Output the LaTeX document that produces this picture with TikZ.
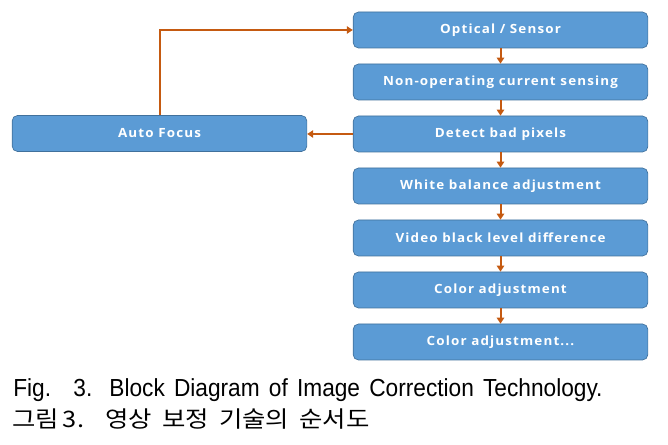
\documentclass[tikz,border=0pt]{standalone}
\usepackage{fontspec}
\setmainfont{Open Sans}
\newfontfamily\boxfont[LetterSpace=9,FakeStretch=1.06]{Open Sans}
\newfontfamily\kr[FakeStretch=1.12]{Noto Sans CJK KR}
\newfontfamily\latcap[FakeStretch=0.92]{Liberation Sans}
\usetikzlibrary{arrows.meta}
\definecolor{boxblue}{HTML}{5B9BD5}
\definecolor{boxedge}{HTML}{41719C}
\definecolor{arr}{HTML}{C55A11}
\begin{document}
\begin{tikzpicture}[x=0.75pt,y=-0.75pt,
 blk/.style={draw=boxedge, line width=0.5pt, fill=boxblue, rounded corners=4pt,
   minimum width=221pt, minimum height=27pt, inner sep=0pt, text=white,
   font=\boxfont\bfseries\fontsize{9.5}{10}\selectfont},
 link/.style={draw=arr, line width=1.5pt, -{Triangle[length=4.5pt,width=5.5pt]}},
 captxt/.style={anchor=base west, inner sep=0pt}]
\useasboundingbox (0,0) rectangle (668,445);
\node[blk] (b1) at (500.5,30) {Optical / Sensor};
\node[blk] (b2) at (500.5,82) {Non-operating current sensing};
\node[blk] (b3) at (500.5,134) {Detect bad pixels};
\node[blk] (b4) at (500.5,186) {White balance adjustment};
\node[blk] (b5) at (500.5,238) {Video black level difference};
\node[blk] (b6) at (500.5,290) {Color adjustment};
\node[blk] (b7) at (500.5,342) {Color adjustment...};
\node[blk] (af) at (159.5,133.5) {Auto Focus};
\draw[link] (b1) -- (b2);
\draw[link] (b2) -- (b3);
\draw[link] (b3) -- (b4);
\draw[link] (b4) -- (b5);
\draw[link] (b5) -- (b6);
\draw[link] (b6) -- (b7);
\draw[link] (b3.west) -- (af.east |- b3.west);
\draw[link] (af.north) |- (b1.west);
\node[captxt, font=\latcap\fontsize{18.5}{20}\selectfont] (cap1) at (13,397)
  {\makebox[442pt][s]{Fig.\hspace{4pt} 3. Block Diagram of Image Correction Technology.}};
\node[captxt, font=\kr\fontsize{17}{18}\selectfont] (cap2) at (12,427)
  {\makebox[268pt][s]{그림\hspace{3pt}3. 영상 보정 기술의 순서도}};
\end{tikzpicture}
\end{document}
